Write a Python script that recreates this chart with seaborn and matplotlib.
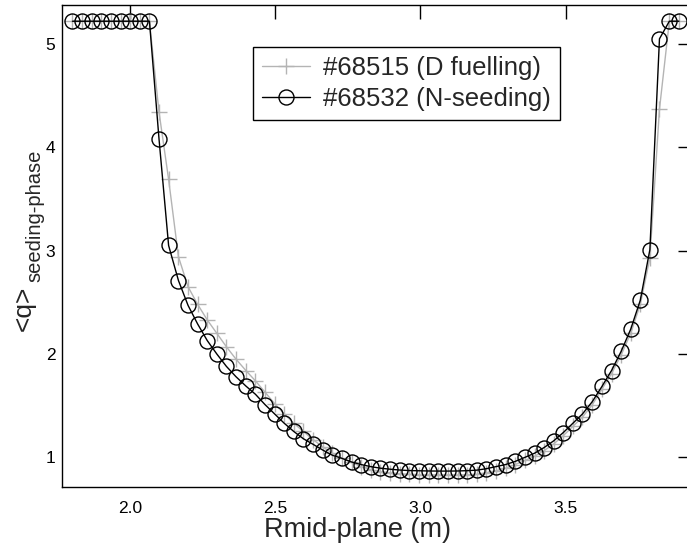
import matplotlib
matplotlib.use("Agg")
import matplotlib.pyplot as plt
import seaborn as sns
import pandas as pd

# R mid-plane grid (m)
r_mid = [1.802, 1.835, 1.868, 1.901, 1.935, 1.968, 2.001, 2.034, 2.067, 2.100,
         2.133, 2.167, 2.200, 2.233, 2.266, 2.299, 2.332, 2.365, 2.399, 2.432,
         2.465, 2.498, 2.531, 2.564, 2.597, 2.631, 2.664, 2.697, 2.730, 2.763,
         2.796, 2.829, 2.862, 2.896, 2.929, 2.962, 2.995, 3.028, 3.061, 3.094,
         3.128, 3.161, 3.194, 3.227, 3.260, 3.293, 3.326, 3.360, 3.393, 3.426,
         3.459, 3.492, 3.525, 3.558, 3.592, 3.625, 3.658, 3.691, 3.724, 3.757,
         3.790, 3.823, 3.857, 3.890]

q_68515 = [5.22, 5.22, 5.22, 5.22, 5.22, 5.22, 5.22, 5.22, 5.22, 4.34,
           3.69, 2.94, 2.65, 2.48, 2.33, 2.20, 2.07, 1.95, 1.84, 1.74,
           1.63, 1.52, 1.42, 1.33, 1.25, 1.17, 1.10, 1.04, 0.99, 0.95,
           0.91, 0.88, 0.86, 0.85, 0.84, 0.835, 0.83, 0.83, 0.83, 0.83,
           0.83, 0.83, 0.835, 0.85, 0.87, 0.895, 0.93, 0.97, 1.01, 1.065,
           1.13, 1.21, 1.30, 1.39, 1.51, 1.66, 1.81, 1.99, 2.20, 2.48,
           2.93, 4.37, 5.22, 5.22]

q_68532 = [5.22, 5.22, 5.22, 5.22, 5.22, 5.22, 5.22, 5.22, 5.22, 4.08,
           3.05, 2.71, 2.47, 2.29, 2.13, 2.00, 1.88, 1.78, 1.69, 1.61,
           1.51, 1.42, 1.33, 1.25, 1.18, 1.125, 1.07, 1.02, 0.99, 0.955,
           0.93, 0.91, 0.895, 0.885, 0.877, 0.872, 0.87, 0.868, 0.867, 0.867,
           0.868, 0.871, 0.876, 0.89, 0.91, 0.93, 0.96, 1.00, 1.04, 1.095,
           1.16, 1.24, 1.33, 1.42, 1.54, 1.686, 1.84, 2.025, 2.24, 2.52,
           3.01, 5.05, 5.22, 5.22]

label_68515 = "#68515 (D fuelling)"
label_68532 = "#68532 (N-seeding)"
x_ticks = [2.0, 2.5, 3.0, 3.5]
y_ticks = [1, 2, 3, 4, 5]

sns.set_style("white")
plt.rcParams['font.family'] = ['Liberation Sans', 'DejaVu Sans']

W, H = 687, 554
fig = plt.figure(figsize=(W / 100, H / 100), dpi=100)
ax = fig.add_axes([62.3 / W, (H - 487.3) / H, (692 - 62.3) / W, (487.3 - 4.7) / H])

df1 = pd.DataFrame({"R": r_mid, "q": q_68515})
df2 = pd.DataFrame({"R": r_mid, "q": q_68532})

sns.lineplot(data=df1, x="R", y="q", ax=ax, color="#b4b4b4", lw=1.0,
             marker="+", markersize=11.5, mew=1.0, mec="#b4b4b4",
             label=label_68515, zorder=2)
sns.lineplot(data=df2, x="R", y="q", ax=ax, color="black", lw=1.0,
             marker="o", markersize=10.8, mew=1.0, mfc="none", mec="black",
             label=label_68532, zorder=3)

ax.set_xlim(1.767, 3.935)
ax.set_ylim(0.71, 5.38)
ax.set_xticks(x_ticks)
ax.set_xticklabels([f"{v:.1f}" for v in x_ticks])
ax.set_yticks(y_ticks)
ax.set_yticklabels([str(v) for v in y_ticks])
ax.tick_params(direction="in", length=10, width=1.0, top=True, right=True,
               labelsize=12.5, colors="black")
ax.tick_params(axis="x", pad=10)
ax.tick_params(axis="y", pad=5)
for s in ax.spines.values():
    s.set_linewidth(1.0)
    s.set_color("black")

ax.set_xlabel("")
ax.set_ylabel("")
fig.text(357 / W, 1 - 530 / H, "Rmid-plane (m)",
         ha="center", va="center", fontsize=19.5)
fig.text(24 / W, 1 - 308 / H, "<q>", rotation=90, ha="center", va="center",
         fontsize=19)
fig.text(35 / W, 1 - 216 / H, "seeding-phase", rotation=90, ha="center",
         va="center", fontsize=14.5)

leg = ax.legend(loc="upper left", bbox_to_anchor=(253 / W, 1 - 46.7 / H),
                bbox_transform=fig.transFigure, borderaxespad=0,
                fontsize=18.5, frameon=True, fancybox=False, framealpha=1,
                edgecolor="black", handlelength=1.87, handletextpad=0.5,
                borderpad=0.35, labelspacing=0.3)
leg.get_frame().set_linewidth(1.0)

fig.savefig("out.png", dpi=100)
